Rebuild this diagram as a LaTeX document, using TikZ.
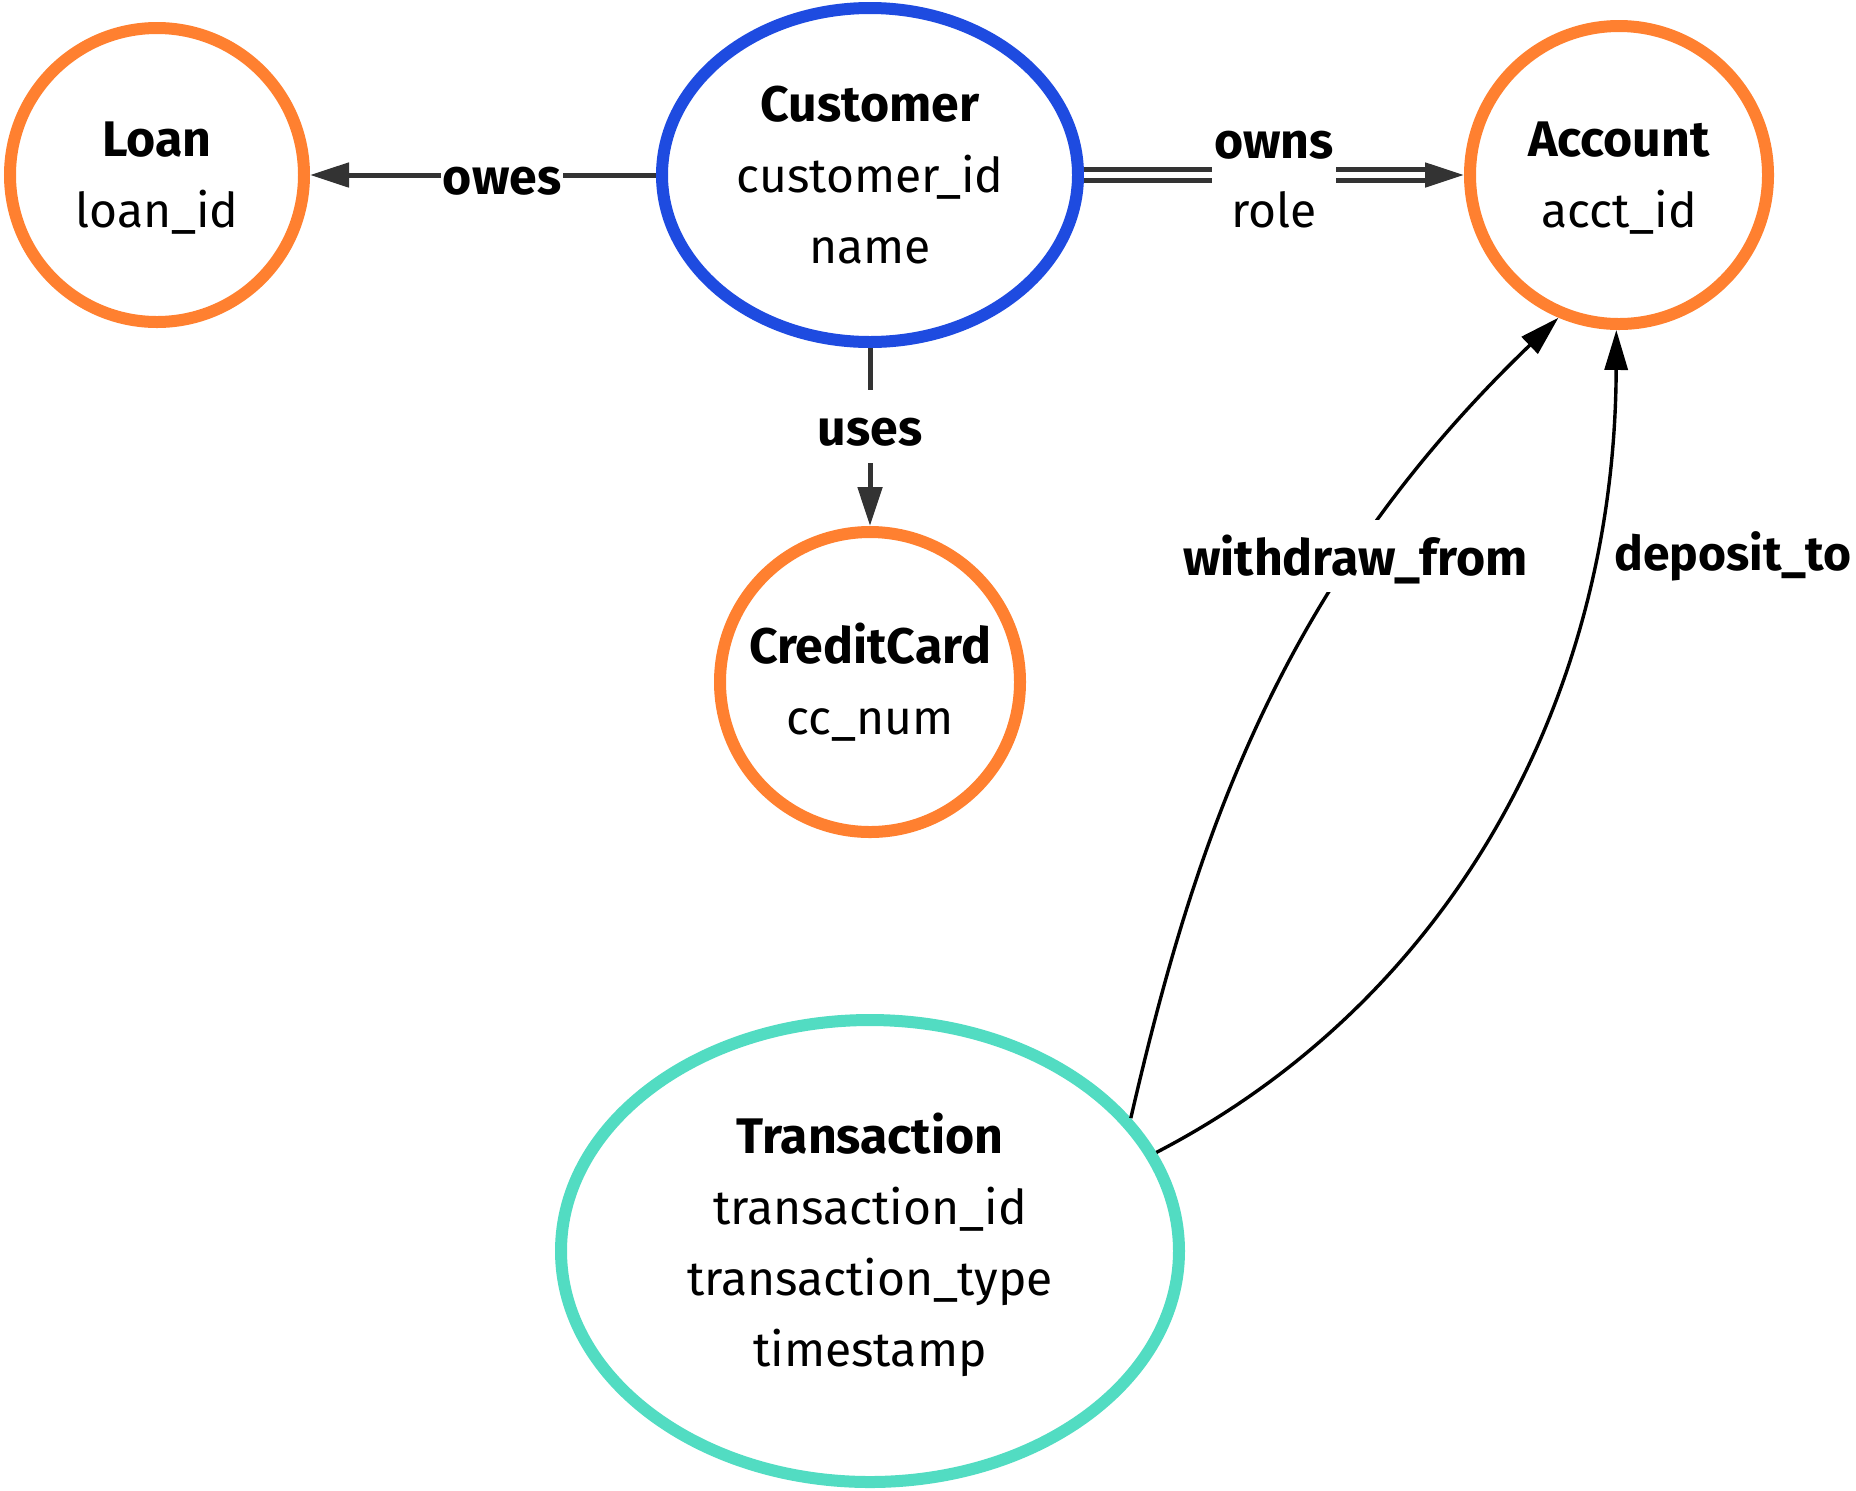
\documentclass[tikz,border=0pt]{standalone}
\usepackage{fontspec}
\setmainfont{Fira Sans}
\usetikzlibrary{arrows.meta,shapes.geometric}
\definecolor{orng}{HTML}{FF8030}
\definecolor{blu}{HTML}{1E4BE0}
\definecolor{tealc}{HTML}{52DCC2}
\definecolor{edg}{HTML}{333333}
\newcommand\enttitle[1]{{\bfseries\fontsize{25}{35.5}\selectfont #1}}
\tikzset{
  ent/.style={draw, line width=6pt, inner sep=0pt, align=center,
    font=\fontsize{24}{35.5}\selectfont},
  circ/.style={ent, circle},
  ell/.style={ent, ellipse},
  conn/.style={draw=edg, line width=2.5pt, -{Triangle[length=19.5pt,width=12pt]}},
  thinconn/.style={draw=black, line width=1.7pt, -{Triangle[length=20pt,width=11.5pt]}},
  dblline/.style={draw=edg, line width=2.5pt, double=white, double distance=3.3pt},
  lbl/.style={fill=white, inner xsep=1pt, inner ysep=6pt, text height=21.9pt,
    text depth=2.35pt, font=\bfseries\fontsize{25}{35}\selectfont},
  lbltwo/.style={fill=white, inner xsep=1pt, inner ysep=2pt, align=center,
    font=\fontsize{24}{34.5}\selectfont},
}
\begin{document}
\begin{tikzpicture}[x=0.5pt,y=-0.5pt]
\useasboundingbox (0,0) rectangle (1856,1490);

\node[circ, draw=orng, minimum size=147pt] (loan) at (157,175)
  {\rule{0pt}{20.5pt}\enttitle{Loan}\\loan\_id};
\node[ell, draw=blu, minimum width=208pt, minimum height=167pt] (cust) at (870,175)
  {\enttitle{Customer}\\customer\_id\\name};
\node[circ, draw=orng, minimum size=149pt] (acct) at (1619,175)
  {\rule{0pt}{20.5pt}\enttitle{Account}\\acct\_id};
\node[circ, draw=orng, minimum size=150pt] (cc) at (870,682) {\enttitle{CreditCard}\\cc\_num};
\node[ell, draw=tealc, minimum width=309pt, minimum height=231pt] (trans) at (870,1251)
  {\enttitle{Transaction}\\transaction\_id\\transaction\_type\\timestamp\rule[-11.7pt]{0pt}{11.7pt}};

% owes
\draw[conn] (cust.west) -- (loan.east) node[lbl, pos=0.445] (oweslbl) {owes};
% uses
\draw[conn] (cust.south) -- (cc.north) node[lbl, pos=0.44] (useslbl) {uses};
% owns (double line)
\draw[dblline, shorten >=19pt] (cust.east) -- (acct.west)
  node[lbltwo, midway] (ownslbl) {\rule{0pt}{18pt}\enttitle{owns}\\role};
\coordinate (ownsbase) at ([xshift=-19.5pt]acct.west);
\draw[conn] (ownsbase) -- (acct.west);
% withdraw_from
\draw[thinconn] (trans.27) .. controls (1195,840) and (1280,585) .. (acct.247)
  node[lbl, pos=0.7] (wlbl) {withdraw\_from};
% deposit_to
\draw[thinconn] (trans.19) .. controls (1450,1000) and (1615,700) .. (acct.269);
\node[font=\bfseries\fontsize{24}{35}\selectfont, inner sep=0pt, anchor=east] (dlbl) at (1852,556) {deposit\_to};
\end{tikzpicture}
\end{document}
